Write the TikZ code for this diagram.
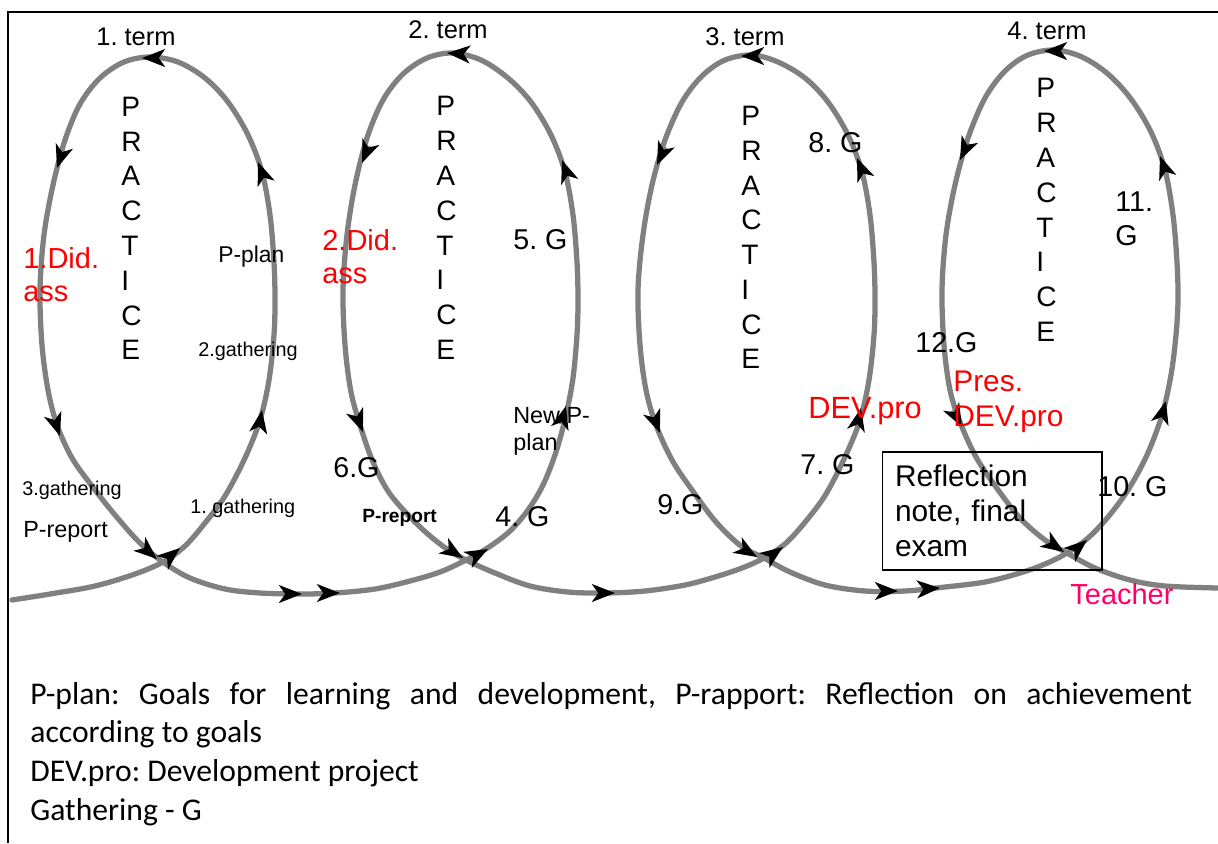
\documentclass[tikz,border=0pt]{standalone}
\usepackage{fontspec}
\setmainfont{Liberation Sans}
\newfontfamily\legendfont{Carlito}
\usetikzlibrary{arrows.meta}
\definecolor{curvegray}{RGB}{128,128,128}
\definecolor{didred}{RGB}{255,0,0}
\definecolor{teacherpink}{RGB}{255,0,102}
\frenchspacing
\begin{document}
\begin{tikzpicture}[x=0.02cm,y=-0.02cm,
  curve/.style={draw=curvegray,line width=3pt,line join=round,line cap=round},
  tip/.style={draw=curvegray,line width=3pt,-{Stealth[length=13pt,width=10pt,inset=3.5pt,color=black]}},
  frame/.style={draw=black,line width=0.9pt},
  lab/.style={inner sep=0pt,anchor=north west,align=left},
  term/.style={inner sep=0pt,anchor=center,font=\fontsize{14.5}{17}\selectfont},
  practice/.style={inner sep=0pt,anchor=west,align=left,font=\fontsize{16}{19.8}\selectfont},
  gl/.style={lab,font=\fontsize{16.3}{19.8}\selectfont},
  small/.style={lab,font=\fontsize{11.3}{13}\selectfont},
  mid/.style={lab,font=\fontsize{13.3}{15.3}\selectfont},
  redl/.style={lab,text=didred,font=\fontsize{16.5}{18.9}\selectfont},
  legend/.style={anchor=base west,inner sep=0pt,text width=23.24cm,align=justify,font=\legendfont\fontsize{18}{22.1}\selectfont}
]
\useasboundingbox (0,0) rectangle (1218,843);
% frame
\coordinate (fl) at (8,843);
\coordinate (tl) at (8,12);
\coordinate (tr) at (1218,12);
\draw[frame] (fl) -- (tl) -- (tr);

% spiral curve
\draw[curve] plot[smooth,tension=0.55] coordinates {
 (12,600) (50,594) (95,586) (135,574) (163,562) (185,546) (205,523) (225,496) (245,458) (260,420) (269,380) (274,335) (275,300) (274,262) (270,215) (262,172) (248,135) (228,102) (205,78) (178,62) (150,57) (124,62) (100,78) (80,104) (65,140) (53,185) (44,235) (40,290) (42,345) (48,390) (57,425) (72,458) (92,486) (115,515) (140,543) (163,562) (190,578) (225,589) (260,593) (300,594) (335,593) (375,589) (410,581) (440,572)
 (466,560) (489,547) (510,531) (528,510) (543,485) (556,452) (566,415) (573,378) (577,335) (578,300) (577,262) (573,215) (565,172) (551,135) (531,102) (508,78) (481,60) (453,53) (427,58) (403,74) (383,100) (367,138) (355,185) (347,235) (343,290) (345,345) (351,392) (361,428) (373,462) (390,494) (418,525) (444,547) (466,560) (495,573) (530,586) (568,592) (605,593) (645,591) (685,585) (715,577) (742,568)
 (764,558) (786,543) (806,521) (826,494) (845,457) (860,420) (869,380) (874,335) (875,300) (874,262) (870,215) (862,172) (848,135) (828,102) (805,78) (778,62) (752,55) (725,60) (702,76) (682,102) (665,140) (652,185) (643,235) (638,290) (640,345) (646,390) (656,425) (672,460) (692,490) (716,522) (741,546) (764,558) (790,572) (825,585) (865,591) (905,591) (945,587) (985,582) (1020,573) (1045,564)
 (1067,553) (1088,538) (1108,517) (1128,490) (1147,455) (1162,415) (1171,375) (1176,335) (1178,300) (1177,262) (1173,215) (1165,170) (1151,132) (1131,99) (1108,74) (1082,57) (1055,50) (1028,55) (1005,71) (985,98) (968,138) (955,185) (946,235) (942,290) (944,345) (950,390) (960,422) (976,457) (996,487) (1020,518) (1045,540) (1067,553) (1095,568) (1130,580) (1165,586) (1218,588)};

% arrow heads along the curve
\foreach \n/\fx/\fy/\tx/\ty in {
  a1/168/558/180/548, a2/259/428/262/410, a3/264/178/258/162, a4/158/58/142/58,
  a5/63/150/57/168, a6/54/418/60/436, a7/143/547/157/559, a8/285/594/302/594, a9/323/593/340/593,
  b1/473/557/488/549, b2/561/424/566/406, b3/568/177/562/160, b4/463/54/447/53,
  b5/369/146/362/163, b6/356/414/363/432, b7/447/548/463/558, b8/598/593/615/593,
  c1/769/557/783/547, c2/857/426/861/408, c3/864/175/857/158, c4/757/56/741/56,
  c5/665/147/657/165, c6/653/415/660/433, c7/742/548/757/557, c8/881/591/898/591, c9/923/589/940/588,
  d1/1074/551/1087/540, d2/1161/419/1166/401, d3/1166/173/1160/156, d4/1060/51/1044/51,
  d5/968/143/960/160, d6/953/410/962/427, d7/1049/542/1064/552}
{
  \coordinate (\n-s) at (\fx,\fy);
  \coordinate (\n-e) at (\tx,\ty);
  \draw[tip] (\n-s) -- (\n-e);
}

% term labels
\node[term] (t1) at (136,37) {1. term};
\node[term] (t2) at (448,30) {2. term};
\node[term] (t3) at (745,37) {3. term};
\node[term] (t4) at (1047,31) {4. term};

% PRACTICE columns
\node[practice] (pr1) at (121,228.5) {P\\R\\A\\C\\T\\I\\C\\E};
\node[practice] (pr2) at (436,228) {P\\R\\A\\C\\T\\I\\C\\E};
\node[practice] (pr3) at (741,237.5) {P\\R\\A\\C\\T\\I\\C\\E};
\node[practice] (pr4) at (1036,210) {P\\R\\A\\C\\T\\I\\C\\E};

% loop 1 labels
\node[redl] (did1) at (23,247) {1.Did.\\ass};
\node[lab,font=\fontsize{13}{15}\selectfont] (pplan) at (218,246) {P-plan};
\node[small] (gath2) at (198,342) {2.gathering};
\node[small] (gath3) at (22,481) {3.gathering};
\node[mid] (prep1) at (23,521) {P-report};
\node[small] (gath1) at (190,499) {1. gathering};

% loop 2 labels
\node[redl] (did2) at (322,229) {2.Did.\\ass};
\node[gl] (g5) at (513,229) {5. G};
\node[gl] (g6) at (333,457) {6.G};
\node[lab,font=\bfseries\fontsize{10.9}{12}\selectfont] (prep2) at (362,509) {P-report};
\node[mid] (newp) at (513,407) {New P-\\plan};
\node[gl] (g4) at (495,506) {4. G};

% loop 3 labels
\node[gl] (g8) at (808,132) {8. G};
\node[lab,text=didred,font=\fontsize{17.5}{20}\selectfont] (dev1) at (808,397) {DEV.pro};
\node[gl] (g7) at (800,454) {7. G};
\node[gl] (g9) at (657,494) {9.G};

% loop 4 labels
\node[gl] (g11) at (1115,191) {11.\\G};
\node[gl] (g12) at (915,332) {12.G};
\node[lab,text=didred,font=\fontsize{17}{19.8}\selectfont] (pres) at (953,371) {Pres.\\DEV.pro};
\node[gl] (g10) at (1097,476) {10. G};
\node[draw=black,line width=0.6pt,minimum width=4.4cm,minimum height=2.36cm,text width=3.88cm,inner xsep=0.26cm,inner ysep=0pt,align=left,font=\fontsize{17}{19.8}\selectfont] (refl) at (992,511) {Reflection\\note, final\\exam};
\node[lab,text=teacherpink,font=\fontsize{16.5}{19}\selectfont] (teacher) at (1070,583) {Teacher};

% legend
\node[legend] (leg) at (30,704) {\noindent P-plan: Goals for learning and development, P-rapport: Reflection on achievement\linebreak according to goals\\DEV.pro: Development project\\Gathering - G};
\end{tikzpicture}
\end{document}
